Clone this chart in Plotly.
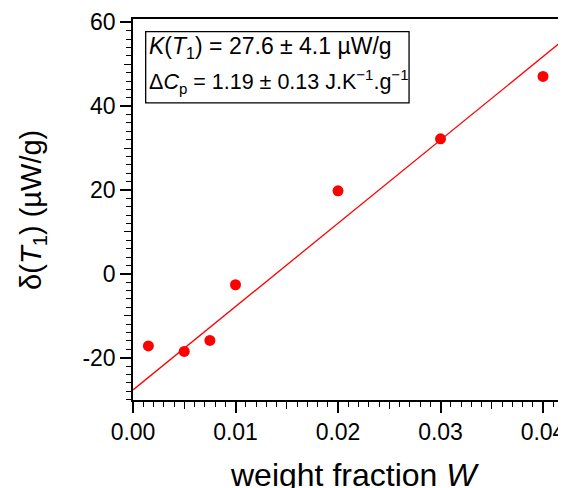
import plotly.graph_objects as go

# data
w = [0.0015, 0.0050, 0.0075, 0.0100, 0.0200, 0.0300, 0.0400]
delta = [-17.2, -18.5, -15.9, -2.6, 19.8, 32.2, 47.1]
fit_w = [0.0, 0.04195]
fit_delta = [-27.7, 55.7]

x_ticks = [0.00, 0.01, 0.02, 0.03, 0.04]
x_ticktext = ["0.00", "0.01", "0.02", "0.03", "0.04"]
x_mid_ticks = [0.005, 0.015, 0.025, 0.035]
y_ticks = [-20, 0, 20, 40, 60]
y_ticktext = ["-20", "0", "20", "40", "60"]
y_mid_ticks = [-10, 10, 30, 50]

x_range = [0, 0.04195]
y_range = [-30.1, 60.8]

font = "Liberation Sans, Arial, sans-serif"

fig = go.Figure()
fig.add_trace(go.Scatter(x=fit_w, y=fit_delta, mode="lines", xaxis="x2", yaxis="y2",
                         line=dict(color="#ff0000", width=1.3), showlegend=False))
fig.add_trace(go.Scatter(x=w, y=delta, mode="markers",
                         marker=dict(color="#ff0000", size=11), showlegend=False))

axis_common = dict(showline=True, linecolor="black", linewidth=1.5, mirror=True,
                   ticks="outside", ticklen=11, tickwidth=1.5, tickcolor="black",
                   showgrid=False, zeroline=False, automargin=False,
                   tickfont=dict(family=font, size=23, color="black"))

fig.update_layout(
    xaxis=dict(range=x_range, tickvals=x_ticks, ticktext=x_ticktext,
               minor=dict(dtick=0.001, tick0=0, ticks="outside", ticklen=5, tickwidth=1.2, tickcolor="black"),
               **axis_common),
    yaxis=dict(range=y_range, tickvals=y_ticks, ticktext=y_ticktext,
               minor=dict(dtick=2, tick0=0, ticks="outside", ticklen=5, tickwidth=1.2, tickcolor="black"),
               **axis_common),
    xaxis2=dict(range=x_range, overlaying="x", side="bottom", anchor="y2", tickvals=x_mid_ticks,
                showticklabels=False, ticks="outside", ticklen=8, tickwidth=1.2, tickcolor="black",
                showline=False, showgrid=False, zeroline=False, automargin=False),
    yaxis2=dict(range=y_range, overlaying="y", side="left", anchor="x2", tickvals=y_mid_ticks,
                showticklabels=False, ticks="outside", ticklen=8, tickwidth=1.2, tickcolor="black",
                showline=False, showgrid=False, zeroline=False, automargin=False),
)

# box with fit results
fig.add_shape(type="rect", xref="paper", yref="paper", x0=0.0295, x1=0.642, y0=0.780, y1=0.9667,
              line=dict(color="black", width=1.3), fillcolor="rgba(0,0,0,0)")
fig.add_annotation(xref="paper", yref="paper", x=0.036, y=0.9265, xanchor="left", yanchor="middle",
                   showarrow=False, borderpad=0,
                   text="<i>K</i>(<i>T</i><sub>1</sub>) = 27.6 ± 4.1 µW/g",
                   font=dict(family=font, size=23, color="black"))
fig.add_annotation(xref="paper", yref="paper", x=0.035, y=0.837, xanchor="left", yanchor="middle",
                   showarrow=False, borderpad=0,
                   text="Δ<i>C</i><sub>p</sub> = 1.19 ± 0.13 J.K<sup>−1</sup>.g<sup>−1</sup>",
                   font=dict(family=font, size=21.5, color="black"))

# axis titles
fig.add_annotation(xref="paper", yref="paper", x=0.516, y=-0.197, xanchor="center", yanchor="middle",
                   showarrow=False, text="weight fraction <i>W</i>",
                   font=dict(family=font, size=32, color="black"))
fig.add_annotation(xref="paper", yref="paper", x=-0.234, y=0.5, xanchor="center", yanchor="middle",
                   showarrow=False, textangle=-90, text="δ(<i>T</i><sub>1</sub>) (µW/g)",
                   font=dict(family=font, size=29, color="black"))

# page body has an 8px margin, so the figure is 8px smaller than the window
fig.update_layout(width=558, height=480, margin=dict(l=125, r=2.5, t=11, b=88),
                  plot_bgcolor="white", paper_bgcolor="white")

fig.write_html("out.html")
